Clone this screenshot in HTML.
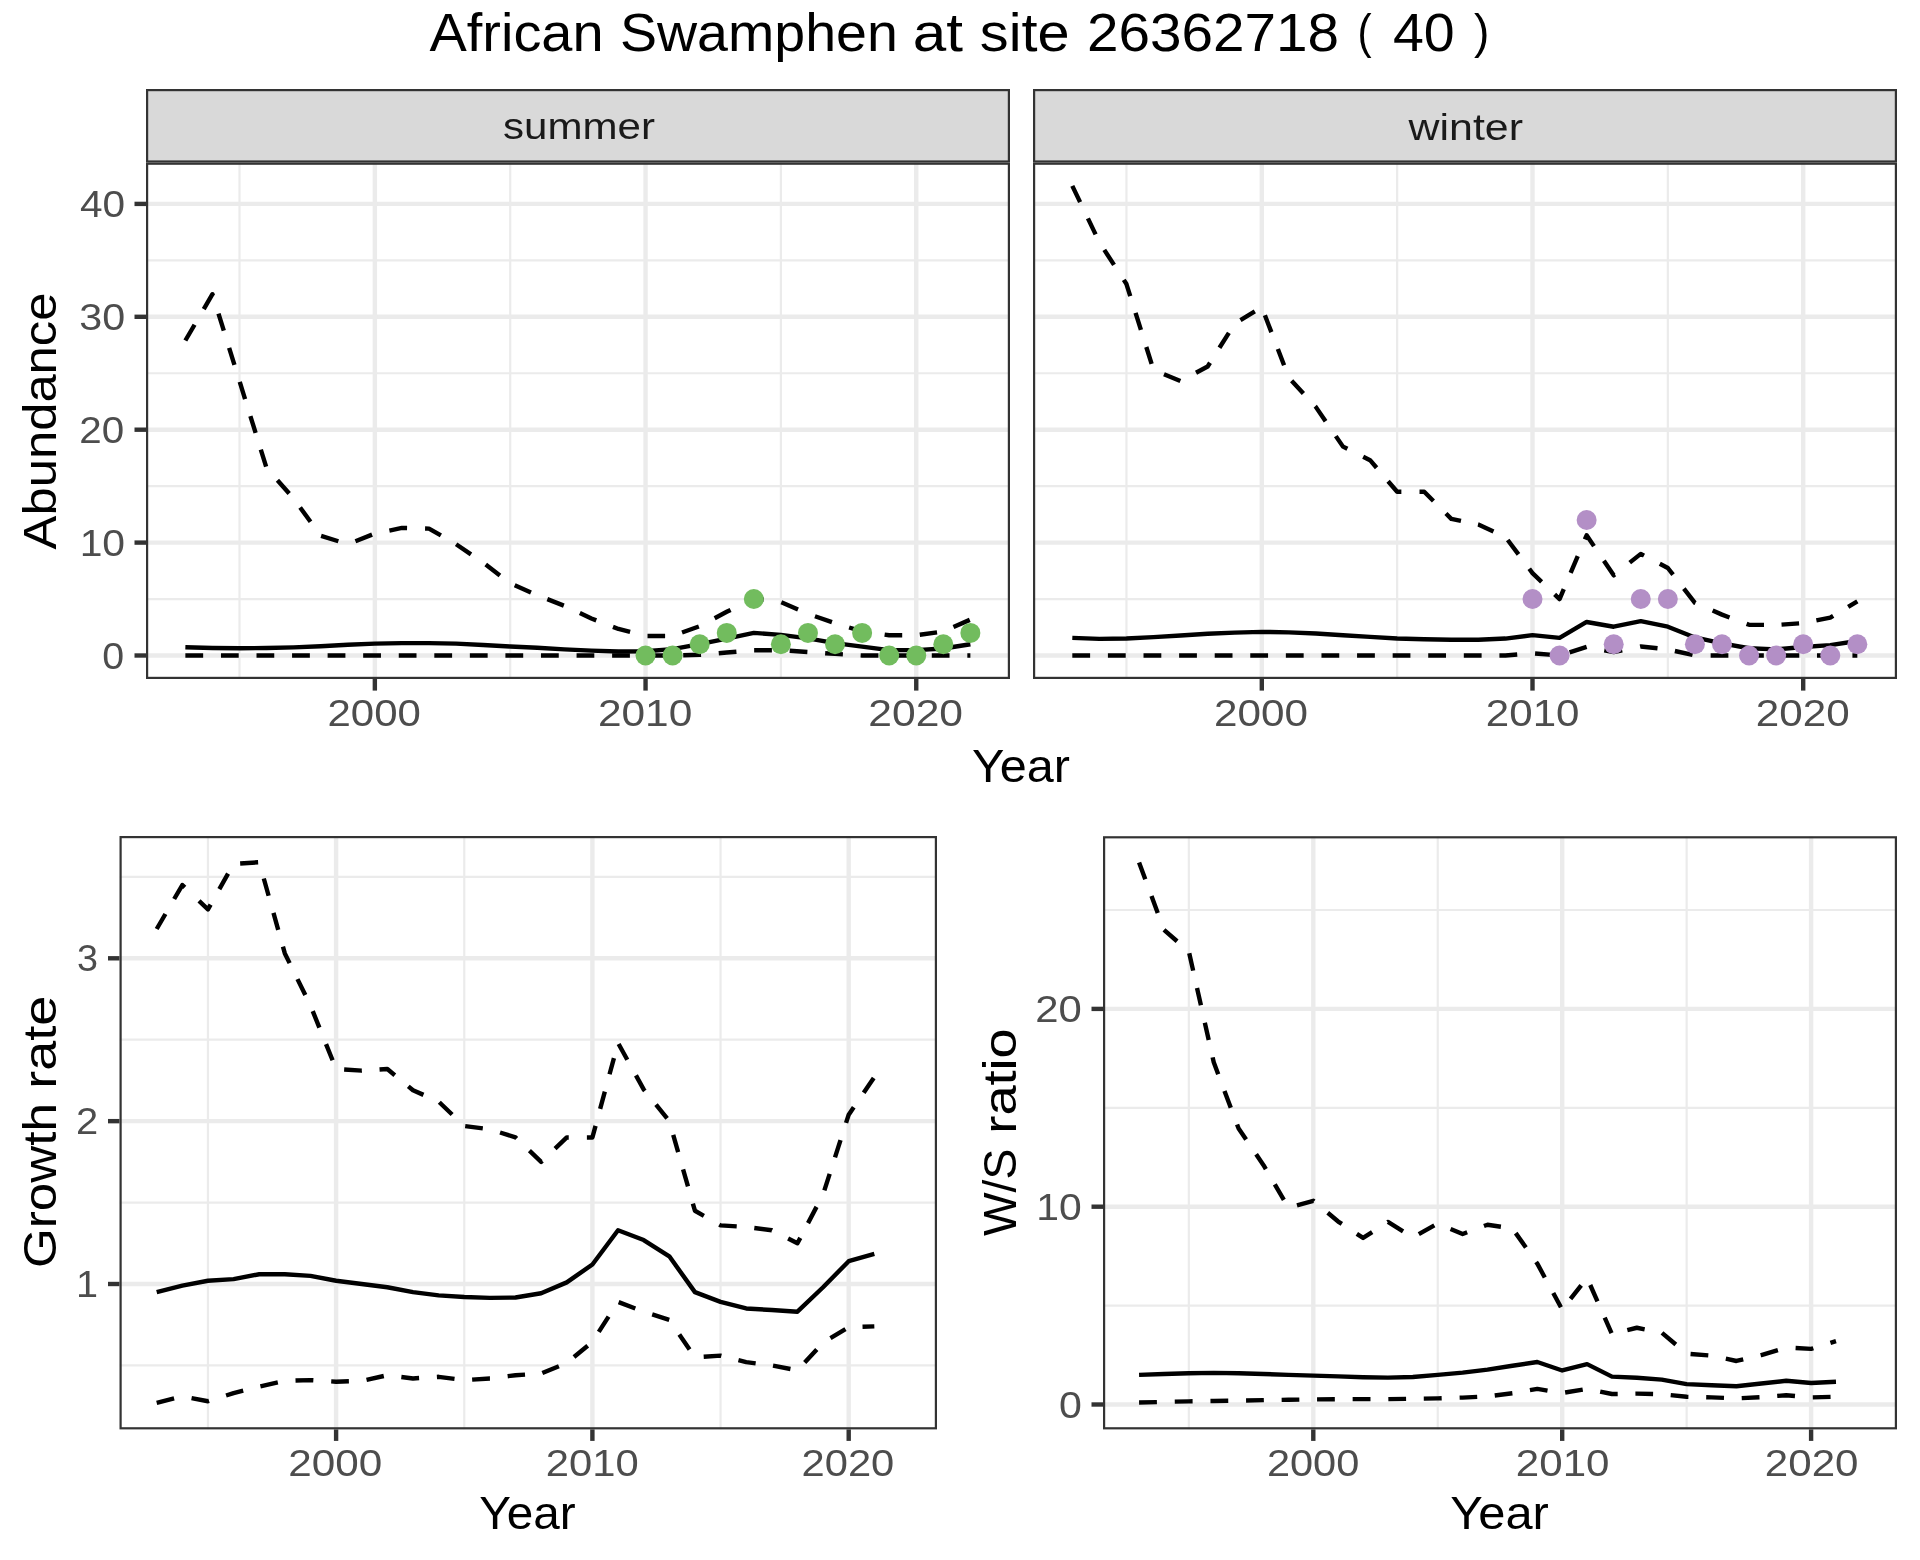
<!DOCTYPE html>
<html><head><meta charset="utf-8"><title>African Swamphen at site 26362718</title>
<style>html,body{margin:0;padding:0;background:#fff;width:1920px;height:1560px;overflow:hidden}
text{font-family:"Liberation Sans",sans-serif}
svg{will-change:transform}</style></head><body>
<svg width="1920" height="1560" viewBox="0 0 1920 1560" style="display:block;font-family:'Liberation Sans',sans-serif">
<rect width="1920" height="1560" fill="#fff"/>
<rect x="146" y="162.6" width="864" height="516.4" fill="#fff"/>
<defs><clipPath id="csummer"><rect x="146" y="162.6" width="864" height="516.4"/></clipPath></defs>
<g clip-path="url(#csummer)">
<line x1="146" x2="1010" y1="599.05" y2="599.05" stroke="#EBEBEB" stroke-width="2.2"/>
<line x1="146" x2="1010" y1="486.15" y2="486.15" stroke="#EBEBEB" stroke-width="2.2"/>
<line x1="146" x2="1010" y1="373.25" y2="373.25" stroke="#EBEBEB" stroke-width="2.2"/>
<line x1="146" x2="1010" y1="260.35" y2="260.35" stroke="#EBEBEB" stroke-width="2.2"/>
<line y1="162.6" y2="679" x1="239.5" x2="239.5" stroke="#EBEBEB" stroke-width="2.2"/>
<line y1="162.6" y2="679" x1="510.2" x2="510.2" stroke="#EBEBEB" stroke-width="2.2"/>
<line y1="162.6" y2="679" x1="780.9" x2="780.9" stroke="#EBEBEB" stroke-width="2.2"/>
<line x1="146" x2="1010" y1="655.5" y2="655.5" stroke="#EBEBEB" stroke-width="4.4"/>
<line x1="146" x2="1010" y1="542.6" y2="542.6" stroke="#EBEBEB" stroke-width="4.4"/>
<line x1="146" x2="1010" y1="429.7" y2="429.7" stroke="#EBEBEB" stroke-width="4.4"/>
<line x1="146" x2="1010" y1="316.8" y2="316.8" stroke="#EBEBEB" stroke-width="4.4"/>
<line x1="146" x2="1010" y1="203.9" y2="203.9" stroke="#EBEBEB" stroke-width="4.4"/>
<line y1="162.6" y2="679" x1="374.85" x2="374.85" stroke="#EBEBEB" stroke-width="4.4"/>
<line y1="162.6" y2="679" x1="645.55" x2="645.55" stroke="#EBEBEB" stroke-width="4.4"/>
<line y1="162.6" y2="679" x1="916.25" x2="916.25" stroke="#EBEBEB" stroke-width="4.4"/>
<path d="M185.36 655.5 L203.16 655.5 M220.96 655.5 L238.71 655.5 M256.51 655.5 L266.57 655.5 L274.26 655.5 M292.06 655.5 L293.64 655.5 L309.86 655.5 M327.61 655.5 L345.41 655.5 M363.16 655.5 L374.85 655.5 L380.96 655.5 M398.76 655.5 L401.92 655.5 L416.51 655.5 M434.31 655.5 L452.11 655.5 M469.86 655.5 L483.13 655.5 L487.66 655.5 M505.41 655.5 L510.2 655.5 L523.21 655.5 M540.96 655.5 L558.76 655.5 M576.56 655.5 L591.41 655.5 L594.31 655.5 M612.11 655.5 L618.48 655.5 L629.91 655.5 M647.66 655.5 L665.46 655.5 M683.21 655.24 L699.69 654.82 L701 654.71 M718.74 653.23 L726.76 652.56 L736.42 651.72 M754.15 650.19 L771.9 650.19 M789.68 650.78 L807.39 651.96 M825.15 653.22 L835.04 653.92 L842.91 654.38 M860.63 655.41 L862.11 655.5 L878.43 655.5 M896.18 655.5 L913.98 655.5 M931.78 655.5 L943.32 655.5 L949.53 655.5 M967.33 655.5 L970.39 655.5" fill="none" stroke="#000" stroke-width="4.4" stroke-linejoin="round" stroke-linecap="butt"/>
<path d="M185.36 340.51 L194.57 324.76 M203.76 309.04 L212.43 294.22 L212.91 295.77 M218.49 313.68 L223.8 330.72 M229.12 347.81 L234.44 364.9 M239.75 381.94 L245.07 399.03 M250.39 416.12 L255.61 432.88 M260.81 449.59 L266.12 466.63 M277.44 480.33 L289.2 493.57 M300.11 507.48 L310.52 521.79 M321.1 535.95 L338.35 541.27 M355.44 541.18 L372.06 534.66 M389.39 530.54 L401.92 527.92 L407.07 528.05 M425.06 528.5 L428.99 528.6 L440.88 535.44 M456.13 544.23 L470.98 554.32 M485.72 564.56 L499.91 575.39 M514.73 585.25 L530.96 592.42 M547.33 599.15 L563.81 605.61 M579.86 613.07 L591.41 618.47 L596.26 620.35 M612.99 626.84 L618.48 628.97 L630.11 631.98 M647.5 635.97 L665.1 635.97 M682.05 632.55 L698.83 626.46 M714.66 618.22 L726.76 611.81 L730.58 609.93 M746.64 602.03 L753.83 598.49 L763.63 599.79 M781.33 602.29 L798.03 609.53 M814.98 616.27 L831.94 622.14 M849.12 627.5 L862.11 631.45 L866.64 632.09 M884.61 634.64 L889.18 635.29 L902.21 635.29 M919.78 634.79 L937.05 632.34 M953.46 627.01 L969.77 619.87" fill="none" stroke="#000" stroke-width="4.4" stroke-linejoin="round" stroke-linecap="butt"/>
<polyline points="185.36,647.26 212.43,648.05 239.5,648.27 266.57,648.05 293.64,647.37 320.71,646.24 347.78,644.77 374.85,643.65 401.92,643.08 428.99,643.08 456.06,643.65 483.13,645 510.2,646.47 537.27,647.82 564.34,649.4 591.41,650.65 618.48,651.55 645.55,651.21 672.62,649.18 699.69,644.21 726.76,638.57 753.83,632.92 780.9,634.84 807.97,638.34 835.04,643.08 862.11,646.58 889.18,650.08 916.25,650.08 943.32,648.5 970.39,644.21" fill="none" stroke="#000" stroke-width="4.4" stroke-linejoin="round" stroke-linecap="butt"/>
<circle cx="645.55" cy="655.5" r="10" fill="#72BC5E"/>
<circle cx="672.62" cy="655.5" r="10" fill="#72BC5E"/>
<circle cx="699.69" cy="644.21" r="10" fill="#72BC5E"/>
<circle cx="726.76" cy="632.92" r="10" fill="#72BC5E"/>
<circle cx="753.83" cy="599.05" r="10" fill="#72BC5E"/>
<circle cx="780.9" cy="644.21" r="10" fill="#72BC5E"/>
<circle cx="807.97" cy="632.92" r="10" fill="#72BC5E"/>
<circle cx="835.04" cy="644.21" r="10" fill="#72BC5E"/>
<circle cx="862.11" cy="632.92" r="10" fill="#72BC5E"/>
<circle cx="889.18" cy="655.5" r="10" fill="#72BC5E"/>
<circle cx="916.25" cy="655.5" r="10" fill="#72BC5E"/>
<circle cx="943.32" cy="644.21" r="10" fill="#72BC5E"/>
<circle cx="970.39" cy="632.92" r="10" fill="#72BC5E"/>
</g>
<rect x="147.1" y="163.7" width="861.8" height="514.2" fill="none" stroke="#333333" stroke-width="2.2"/>
<rect x="147.1" y="90.1" width="861.8" height="71.4" fill="#D9D9D9" stroke="#333333" stroke-width="2.2"/>
<line x1="374.85" x2="374.85" y1="679" y2="690.6" stroke="#333333" stroke-width="4.4"/>
<line x1="645.55" x2="645.55" y1="679" y2="690.6" stroke="#333333" stroke-width="4.4"/>
<line x1="916.25" x2="916.25" y1="679" y2="690.6" stroke="#333333" stroke-width="4.4"/>
<rect x="1033" y="162.6" width="864" height="516.4" fill="#fff"/>
<defs><clipPath id="cwinter"><rect x="1033" y="162.6" width="864" height="516.4"/></clipPath></defs>
<g clip-path="url(#cwinter)">
<line x1="1033" x2="1897" y1="599.05" y2="599.05" stroke="#EBEBEB" stroke-width="2.2"/>
<line x1="1033" x2="1897" y1="486.15" y2="486.15" stroke="#EBEBEB" stroke-width="2.2"/>
<line x1="1033" x2="1897" y1="373.25" y2="373.25" stroke="#EBEBEB" stroke-width="2.2"/>
<line x1="1033" x2="1897" y1="260.35" y2="260.35" stroke="#EBEBEB" stroke-width="2.2"/>
<line y1="162.6" y2="679" x1="1126.45" x2="1126.45" stroke="#EBEBEB" stroke-width="2.2"/>
<line y1="162.6" y2="679" x1="1397.15" x2="1397.15" stroke="#EBEBEB" stroke-width="2.2"/>
<line y1="162.6" y2="679" x1="1667.85" x2="1667.85" stroke="#EBEBEB" stroke-width="2.2"/>
<line x1="1033" x2="1897" y1="655.5" y2="655.5" stroke="#EBEBEB" stroke-width="4.4"/>
<line x1="1033" x2="1897" y1="542.6" y2="542.6" stroke="#EBEBEB" stroke-width="4.4"/>
<line x1="1033" x2="1897" y1="429.7" y2="429.7" stroke="#EBEBEB" stroke-width="4.4"/>
<line x1="1033" x2="1897" y1="316.8" y2="316.8" stroke="#EBEBEB" stroke-width="4.4"/>
<line x1="1033" x2="1897" y1="203.9" y2="203.9" stroke="#EBEBEB" stroke-width="4.4"/>
<line y1="162.6" y2="679" x1="1261.8" x2="1261.8" stroke="#EBEBEB" stroke-width="4.4"/>
<line y1="162.6" y2="679" x1="1532.5" x2="1532.5" stroke="#EBEBEB" stroke-width="4.4"/>
<line y1="162.6" y2="679" x1="1803.2" x2="1803.2" stroke="#EBEBEB" stroke-width="4.4"/>
<path d="M1072.31 655.5 L1090.11 655.5 M1107.91 655.5 L1125.71 655.5 M1143.51 655.5 L1153.52 655.5 L1161.31 655.5 M1179.11 655.5 L1180.59 655.5 L1196.91 655.5 M1214.71 655.5 L1232.51 655.5 M1250.26 655.5 L1261.8 655.5 L1268.06 655.5 M1285.86 655.5 L1288.87 655.5 L1303.66 655.5 M1321.46 655.5 L1339.26 655.5 M1357.06 655.5 L1370.08 655.5 L1374.86 655.5 M1392.66 655.5 L1397.15 655.5 L1410.41 655.5 M1428.21 655.5 L1446.01 655.5 M1463.81 655.5 L1478.36 655.5 L1481.61 655.5 M1499.41 655.5 L1505.43 655.5 L1517.22 654.52 M1535.06 653.46 L1552.55 654.91 M1569.58 652.33 L1586.64 646.92 L1586.64 646.92 M1604.27 650.3 L1613.71 652.11 L1622.22 650.34 M1640.08 646.61 L1640.78 646.47 L1657.52 648.28 M1674.88 650.99 L1692.54 654.96 M1710.63 655.5 L1721.99 655.5 L1728.38 655.5 M1746.08 655.5 L1749.06 655.5 L1763.83 655.5 M1781.53 655.5 L1799.28 655.5 M1816.98 655.5 L1830.27 655.5 L1834.68 655.5 M1852.43 655.5 L1857.34 655.5" fill="none" stroke="#000" stroke-width="4.4" stroke-linejoin="round" stroke-linecap="butt"/>
<path d="M1072.31 185.84 L1080.11 202.11 M1087.92 218.39 L1095.59 234.39 M1104.3 249.88 L1114.03 264.9 M1123.77 279.92 L1126.45 284.06 L1130.26 296.14 M1135.56 312.92 L1140.93 329.95 M1146.3 346.97 L1151.61 363.8 M1163.99 374.23 L1180.37 381.06 M1196.03 372.78 L1207.66 366.48 L1210.02 362.74 M1219.46 347.77 L1228.88 332.84 M1240.46 320.11 L1254.83 311.42 M1264.9 315.29 L1271.37 332.14 M1277.85 349.04 L1284.08 365.28 M1291.64 380.77 L1303.4 393.52 M1315.2 406.31 L1315.94 407.12 L1325.58 421.19 M1335.81 436.12 L1343.01 446.63 L1347.39 448.83 M1363.18 456.73 L1370.08 460.18 L1376.57 467.77 M1388.09 481.21 L1397.15 491.8 L1401.36 491.8 M1419.51 491.8 L1424.22 491.8 L1433.44 501.02 M1445.95 513.54 L1451.29 518.89 L1460.97 520.91 M1478.01 524.46 L1478.36 524.54 L1493.48 531.47 M1507.71 540 L1518.48 554.37 M1529.24 568.73 L1532.5 573.08 L1541.6 581.81 M1554.63 594.31 L1559.57 599.05 L1563.77 589.15 M1570.65 572.95 L1577.76 556.2 M1584.87 539.44 L1586.64 535.26 L1593.98 546.12 M1603.88 560.79 L1613.71 575.34 L1614.84 574.44 M1629.73 562.64 L1640.78 553.89 L1644.02 555.58 M1659.8 563.81 L1667.85 568 L1673.06 574.69 M1683.87 588.58 L1694.92 602.78 L1695.52 603.04 M1712.65 610.54 L1721.99 614.63 L1729.53 617.46 M1746.62 623.87 L1749.06 624.79 L1764 624.92 M1781.54 624.63 L1799.09 623.39 M1816.37 620.46 L1830.27 617.68 L1833.16 615.93 M1848.18 606.85 L1857.34 601.31" fill="none" stroke="#000" stroke-width="4.4" stroke-linejoin="round" stroke-linecap="butt"/>
<polyline points="1072.31,637.89 1099.38,638.9 1126.45,638.57 1153.52,637.1 1180.59,635.52 1207.66,633.82 1234.73,632.58 1261.8,631.9 1288.87,632.36 1315.94,633.48 1343.01,635.18 1370.08,636.87 1397.15,638.57 1424.22,639.24 1451.29,639.81 1478.36,639.81 1505.43,638.57 1532.5,635.18 1559.57,637.89 1586.64,621.97 1613.71,626.71 1640.78,621.18 1667.85,626.71 1694.92,637.44 1721.99,643.42 1749.06,648.27 1776.13,649.4 1803.2,647.03 1830.27,645.11 1857.34,641.05" fill="none" stroke="#000" stroke-width="4.4" stroke-linejoin="round" stroke-linecap="butt"/>
<circle cx="1532.5" cy="599.05" r="10" fill="#B38FC6"/>
<circle cx="1559.57" cy="655.5" r="10" fill="#B38FC6"/>
<circle cx="1586.64" cy="520.02" r="10" fill="#B38FC6"/>
<circle cx="1613.71" cy="644.21" r="10" fill="#B38FC6"/>
<circle cx="1640.78" cy="599.05" r="10" fill="#B38FC6"/>
<circle cx="1667.85" cy="599.05" r="10" fill="#B38FC6"/>
<circle cx="1694.92" cy="644.21" r="10" fill="#B38FC6"/>
<circle cx="1721.99" cy="644.21" r="10" fill="#B38FC6"/>
<circle cx="1749.06" cy="655.5" r="10" fill="#B38FC6"/>
<circle cx="1776.13" cy="655.5" r="10" fill="#B38FC6"/>
<circle cx="1803.2" cy="644.21" r="10" fill="#B38FC6"/>
<circle cx="1830.27" cy="655.5" r="10" fill="#B38FC6"/>
<circle cx="1857.34" cy="644.21" r="10" fill="#B38FC6"/>
</g>
<rect x="1034.1" y="163.7" width="861.8" height="514.2" fill="none" stroke="#333333" stroke-width="2.2"/>
<rect x="1034.1" y="90.1" width="861.8" height="71.4" fill="#D9D9D9" stroke="#333333" stroke-width="2.2"/>
<line x1="1261.8" x2="1261.8" y1="679" y2="690.6" stroke="#333333" stroke-width="4.4"/>
<line x1="1532.5" x2="1532.5" y1="679" y2="690.6" stroke="#333333" stroke-width="4.4"/>
<line x1="1803.2" x2="1803.2" y1="679" y2="690.6" stroke="#333333" stroke-width="4.4"/>
<rect x="119.5" y="836" width="817.5" height="593.4" fill="#fff"/>
<defs><clipPath id="cgrow"><rect x="119.5" y="836" width="817.5" height="593.4"/></clipPath></defs>
<g clip-path="url(#cgrow)">
<line x1="119.5" x2="937" y1="1365.42" y2="1365.42" stroke="#EBEBEB" stroke-width="2.2"/>
<line x1="119.5" x2="937" y1="1202.57" y2="1202.57" stroke="#EBEBEB" stroke-width="2.2"/>
<line x1="119.5" x2="937" y1="1039.72" y2="1039.72" stroke="#EBEBEB" stroke-width="2.2"/>
<line x1="119.5" x2="937" y1="876.87" y2="876.87" stroke="#EBEBEB" stroke-width="2.2"/>
<line y1="836" y2="1429.4" x1="207.95" x2="207.95" stroke="#EBEBEB" stroke-width="2.2"/>
<line y1="836" y2="1429.4" x1="464.25" x2="464.25" stroke="#EBEBEB" stroke-width="2.2"/>
<line y1="836" y2="1429.4" x1="720.55" x2="720.55" stroke="#EBEBEB" stroke-width="2.2"/>
<line x1="119.5" x2="937" y1="1284" y2="1284" stroke="#EBEBEB" stroke-width="4.4"/>
<line x1="119.5" x2="937" y1="1121.15" y2="1121.15" stroke="#EBEBEB" stroke-width="4.4"/>
<line x1="119.5" x2="937" y1="958.3" y2="958.3" stroke="#EBEBEB" stroke-width="4.4"/>
<line y1="836" y2="1429.4" x1="336.1" x2="336.1" stroke="#EBEBEB" stroke-width="4.4"/>
<line y1="836" y2="1429.4" x1="592.4" x2="592.4" stroke="#EBEBEB" stroke-width="4.4"/>
<line y1="836" y2="1429.4" x1="848.7" x2="848.7" stroke="#EBEBEB" stroke-width="4.4"/>
<path d="M156.69 1402.88 L174.09 1398.46 M191.56 1398.13 L207.95 1401.25 L209.06 1400.9 M226.07 1395.5 L233.58 1393.11 L243.2 1390.67 M260.41 1386.33 L277.83 1382.45 M295.51 1380.56 L310.47 1380.08 L313.34 1380.26 M331.21 1381.4 L336.1 1381.71 L348.89 1381.3 M366.52 1379.83 L383.79 1375.99 M401.34 1376.97 L412.99 1378.45 L419.09 1378.07 M436.9 1376.93 L438.62 1376.82 L454.52 1378.85 M472.13 1379.58 L489.88 1378.45 L489.94 1378.45 M507.65 1376.2 L515.51 1375.2 L525.02 1374.59 M542.34 1373.07 L558.88 1366.24 M573.99 1357.02 L587.71 1345.68 M598.76 1331.91 L608.57 1316.64 M618.64 1302.14 L635.32 1308.5 M652.21 1314.4 L669.22 1319.81 M679.3 1334.46 L689.58 1349.48 M703.69 1356.72 L720.55 1355.65 L721.34 1355.85 M738.44 1360.2 L746.18 1362.17 L755.67 1363.37 M773.02 1365.66 L790.45 1368.98 M804.7 1362.47 L816.79 1349.41 M830.44 1338.18 L845.47 1329.11 M862.52 1326.72 L874.33 1326.34" fill="none" stroke="#000" stroke-width="4.4" stroke-linejoin="round" stroke-linecap="butt"/>
<path d="M156.69 928.99 L165.43 914 M174.16 899.01 L182.32 885.02 L184.79 887.37 M199.01 900.92 L207.95 909.44 L210.62 904.69 M219.34 889.18 L228.06 873.66 M240.16 863.43 L258.12 862.29 M263.79 878.5 L268.63 895.73 M273.47 912.96 L278.21 929.81 M282.95 946.71 L284.84 953.41 L289.62 963.13 M297.48 979.11 L305.31 995.03 M312.74 1011.14 L319.38 1027.6 M326.04 1044.11 L332.57 1060.29 M344.15 1069.55 L361.73 1070.67 L361.82 1070.66 M379.53 1069.54 L387.36 1069.04 L394.8 1075.19 M408.3 1086.33 L412.99 1090.21 L423.46 1094.87 M439.32 1102.27 L452.13 1114.48 M465.2 1126.16 L482.81 1128.39 M500.05 1132.52 L515.51 1137.43 L516.62 1138.49 M529.43 1150.7 L541.14 1161.86 L542.24 1160.81 M555.05 1148.6 L566.77 1137.43 L568.74 1137.43 M586.89 1137.43 L592.4 1137.43 L595.55 1125.82 M600.15 1108.88 L604.84 1091.61 M609.54 1074.28 L613.94 1058.07 M618.62 1044.05 L627.3 1059.76 M635.95 1075.43 L643.66 1089.39 L644.82 1090.83 M656 1104.68 L667.12 1118.46 M673.22 1134.89 L678.15 1152.1 M683.08 1169.35 L687.98 1186.47 M692.88 1203.58 L694.92 1210.72 L703.89 1215.84 M719.29 1224.66 L720.55 1225.37 L736.72 1226.4 M754.29 1228.03 L771.81 1230.26 L772.06 1230.39 M788.11 1238.54 L797.44 1243.29 L800.29 1237.86 M808.02 1223.11 L816.55 1206.86 M824.37 1190.37 L829.68 1173.85 M834.99 1157.34 L840.52 1140.1 M846.07 1122.82 L848.7 1114.64 L853.76 1107.25 M863.69 1092.72 L873.72 1078.07" fill="none" stroke="#000" stroke-width="4.4" stroke-linejoin="round" stroke-linecap="butt"/>
<polyline points="156.69,1292.14 182.32,1285.63 207.95,1280.74 233.58,1279.11 259.21,1274.23 284.84,1274.23 310.47,1275.86 336.1,1280.74 361.73,1284 387.36,1287.26 412.99,1292.14 438.62,1295.4 464.25,1297.03 489.88,1297.84 515.51,1297.52 541.14,1293.28 566.77,1282.37 592.4,1264.46 618.03,1230.26 643.66,1240.03 669.29,1256.32 694.92,1292.14 720.55,1301.91 746.18,1308.43 771.81,1310.06 797.44,1311.68 823.07,1287.26 848.7,1261.2 874.33,1253.87" fill="none" stroke="#000" stroke-width="4.4" stroke-linejoin="round" stroke-linecap="butt"/>
</g>
<rect x="120.6" y="837.1" width="815.3" height="591.2" fill="none" stroke="#333333" stroke-width="2.2"/>
<line x1="336.1" x2="336.1" y1="1429.4" y2="1440.9" stroke="#333333" stroke-width="4.4"/>
<line x1="592.4" x2="592.4" y1="1429.4" y2="1440.9" stroke="#333333" stroke-width="4.4"/>
<line x1="848.7" x2="848.7" y1="1429.4" y2="1440.9" stroke="#333333" stroke-width="4.4"/>
<line x1="108" x2="119.5" y1="1284" y2="1284" stroke="#333333" stroke-width="4.4"/>
<line x1="108" x2="119.5" y1="1121.15" y2="1121.15" stroke="#333333" stroke-width="4.4"/>
<line x1="108" x2="119.5" y1="958.3" y2="958.3" stroke="#333333" stroke-width="4.4"/>
<rect x="1103" y="836.2" width="794" height="593.2" fill="#fff"/>
<defs><clipPath id="cratio"><rect x="1103" y="836.2" width="794" height="593.2"/></clipPath></defs>
<g clip-path="url(#cratio)">
<line x1="1103" x2="1897" y1="1305.6" y2="1305.6" stroke="#EBEBEB" stroke-width="2.2"/>
<line x1="1103" x2="1897" y1="1107.8" y2="1107.8" stroke="#EBEBEB" stroke-width="2.2"/>
<line x1="1103" x2="1897" y1="910" y2="910" stroke="#EBEBEB" stroke-width="2.2"/>
<line y1="836.2" y2="1429.4" x1="1188.85" x2="1188.85" stroke="#EBEBEB" stroke-width="2.2"/>
<line y1="836.2" y2="1429.4" x1="1437.75" x2="1437.75" stroke="#EBEBEB" stroke-width="2.2"/>
<line y1="836.2" y2="1429.4" x1="1686.65" x2="1686.65" stroke="#EBEBEB" stroke-width="2.2"/>
<line x1="1103" x2="1897" y1="1404.5" y2="1404.5" stroke="#EBEBEB" stroke-width="4.4"/>
<line x1="1103" x2="1897" y1="1206.7" y2="1206.7" stroke="#EBEBEB" stroke-width="4.4"/>
<line x1="1103" x2="1897" y1="1008.9" y2="1008.9" stroke="#EBEBEB" stroke-width="4.4"/>
<line y1="836.2" y2="1429.4" x1="1313.3" x2="1313.3" stroke="#EBEBEB" stroke-width="4.4"/>
<line y1="836.2" y2="1429.4" x1="1562.2" x2="1562.2" stroke="#EBEBEB" stroke-width="4.4"/>
<line y1="836.2" y2="1429.4" x1="1811.1" x2="1811.1" stroke="#EBEBEB" stroke-width="4.4"/>
<path d="M1139.07 1402.52 L1156.91 1402.1 M1174.76 1401.67 L1188.85 1401.34 L1192.61 1401.28 M1210.45 1400.99 L1213.74 1400.94 L1228.25 1400.71 M1246.05 1400.43 L1263.52 1400.15 L1263.85 1400.14 M1281.64 1399.86 L1288.41 1399.75 L1299.34 1399.58 M1317.04 1399.33 L1334.84 1399.19 M1352.64 1399.16 L1363.08 1399.16 L1370.49 1399.16 M1388.34 1399.15 L1406.09 1398.87 M1423.78 1398.59 L1437.75 1398.37 L1441.68 1398.24 M1459.62 1397.67 L1462.64 1397.58 L1477.2 1396.88 M1494.73 1395.47 L1512.39 1393.23 M1529.93 1390.16 L1537.31 1388.87 L1547.52 1390.58 M1565.13 1392.54 L1582.74 1389.6 M1600.2 1391.58 L1611.98 1394.02 L1617.7 1393.93 M1635.4 1393.64 L1636.87 1393.62 L1653.09 1394.01 M1670.69 1395.14 L1686.65 1396.79 L1688.41 1396.83 M1706.2 1397.25 L1711.54 1397.38 L1723.99 1397.87 M1741.72 1398.12 L1759.5 1397.27 M1777.2 1395.92 L1786.21 1395.2 L1794.99 1395.97 M1812.78 1397.34 L1830.57 1396.91" fill="none" stroke="#000" stroke-width="4.4" stroke-linejoin="round" stroke-linecap="butt"/>
<path d="M1139.07 862.53 L1145.28 879.32 M1151.5 896.1 L1157.74 912.98 M1163.99 929.81 L1177.09 941.26 M1189.25 953.32 L1193.14 970.64 M1197.02 987.91 L1200.93 1005.28 M1204.83 1022.65 L1208.73 1040.01 M1212.63 1057.38 L1213.74 1062.31 L1218.22 1074.24 M1224.48 1090.91 L1230.78 1107.66 M1237.07 1124.42 L1238.63 1128.57 L1246.12 1139.58 M1256.13 1154.3 L1263.52 1165.16 L1265.85 1169.14 M1274.79 1184.42 L1283.86 1199.91 M1296.97 1205.31 L1313.3 1200.77 L1314.03 1201.38 M1327.74 1212.81 L1338.19 1221.54 L1341.85 1223.95 M1356.83 1233.83 L1363.08 1237.95 L1372.18 1232.1 M1387.52 1222.22 L1387.97 1221.93 L1403.07 1231.29 M1418.79 1234.06 L1434.34 1225.41 M1450.56 1228.91 L1462.64 1234 L1467.18 1232.3 M1483.95 1226.04 L1487.53 1224.7 L1500.9 1226.72 M1515.71 1233.11 L1525.9 1247.53 M1536.12 1261.98 L1537.31 1263.67 L1544.79 1277.45 M1553.25 1293.06 L1560.93 1307.21 M1570.53 1298.96 L1581.2 1285.4 M1590.24 1285.01 L1597.47 1301.33 M1604.7 1317.65 L1611.54 1333.1 M1627.32 1330.18 L1636.87 1327.75 L1644.66 1329.3 M1662 1332.9 L1675.81 1344.53 M1690.56 1353.98 L1708.3 1355.39 M1725.82 1358.71 L1736.43 1360.98 L1743.23 1359.36 M1760.6 1355.22 L1761.32 1355.05 L1777.89 1350.05 M1795.6 1348.06 L1811.1 1348.92 L1813.32 1348.23 M1830.42 1342.93 L1835.99 1341.2" fill="none" stroke="#000" stroke-width="4.4" stroke-linejoin="round" stroke-linecap="butt"/>
<polyline points="1139.07,1374.83 1163.96,1374.04 1188.85,1373.25 1213.74,1372.85 1238.63,1373.25 1263.52,1374.04 1288.41,1374.83 1313.3,1375.62 1338.19,1376.41 1363.08,1377.2 1387.97,1377.6 1412.86,1377.01 1437.75,1374.83 1462.64,1372.65 1487.53,1369.69 1512.42,1365.73 1537.31,1361.97 1562.2,1370.48 1587.09,1364.15 1611.98,1376.61 1636.87,1377.8 1661.76,1379.58 1686.65,1384.13 1711.54,1385.31 1736.43,1386.3 1761.32,1383.53 1786.21,1380.76 1811.1,1382.94 1835.99,1381.75" fill="none" stroke="#000" stroke-width="4.4" stroke-linejoin="round" stroke-linecap="butt"/>
</g>
<rect x="1104.1" y="837.3" width="791.8" height="591" fill="none" stroke="#333333" stroke-width="2.2"/>
<line x1="1313.3" x2="1313.3" y1="1429.4" y2="1440.9" stroke="#333333" stroke-width="4.4"/>
<line x1="1562.2" x2="1562.2" y1="1429.4" y2="1440.9" stroke="#333333" stroke-width="4.4"/>
<line x1="1811.1" x2="1811.1" y1="1429.4" y2="1440.9" stroke="#333333" stroke-width="4.4"/>
<line x1="1091.5" x2="1103" y1="1404.5" y2="1404.5" stroke="#333333" stroke-width="4.4"/>
<line x1="1091.5" x2="1103" y1="1206.7" y2="1206.7" stroke="#333333" stroke-width="4.4"/>
<line x1="1091.5" x2="1103" y1="1008.9" y2="1008.9" stroke="#333333" stroke-width="4.4"/>
<line x1="134.5" x2="146" y1="655.5" y2="655.5" stroke="#333333" stroke-width="4.4"/>
<line x1="134.5" x2="146" y1="542.6" y2="542.6" stroke="#333333" stroke-width="4.4"/>
<line x1="134.5" x2="146" y1="429.7" y2="429.7" stroke="#333333" stroke-width="4.4"/>
<line x1="134.5" x2="146" y1="316.8" y2="316.8" stroke="#333333" stroke-width="4.4"/>
<line x1="134.5" x2="146" y1="203.9" y2="203.9" stroke="#333333" stroke-width="4.4"/>
<text id="t1" x="429.49" y="51.2" font-size="53.5" fill="#000" textLength="174.1" lengthAdjust="spacingAndGlyphs">African</text>
<text id="t2" x="619.94" y="51.2" font-size="53.5" fill="#000" textLength="277.9" lengthAdjust="spacingAndGlyphs">Swamphen</text>
<text id="t3" x="912.8" y="51.2" font-size="53.5" fill="#000" textLength="50.21" lengthAdjust="spacingAndGlyphs">at</text>
<text id="t4" x="979.88" y="51.2" font-size="53.5" fill="#000" textLength="89.79" lengthAdjust="spacingAndGlyphs">site</text>
<text id="t5" x="1086.95" y="51.2" font-size="53.5" fill="#000" textLength="252.1" lengthAdjust="spacingAndGlyphs">26362718</text>
<text id="t6" x="1357.42" y="48.4" font-size="49" fill="#000" textLength="14.13" lengthAdjust="spacingAndGlyphs">(</text>
<text id="t7" x="1392.93" y="51.2" font-size="53.5" fill="#000" textLength="61.7" lengthAdjust="spacingAndGlyphs">40</text>
<text id="t8" x="1473.91" y="48.4" font-size="49" fill="#000" textLength="15.39" lengthAdjust="spacingAndGlyphs">)</text>
<text id="summer" x="502.99" y="139.2" font-size="36.6" fill="#1A1A1A" textLength="152.04" lengthAdjust="spacingAndGlyphs">summer</text>
<text id="winter" x="1408.6" y="139.8" font-size="36.6" fill="#1A1A1A" textLength="114.43" lengthAdjust="spacingAndGlyphs">winter</text>
<text id="tx1" x="327.53" y="726.3" font-size="36.5" fill="#4D4D4D" textLength="93.34" lengthAdjust="spacingAndGlyphs">2000</text>
<text id="tx2" x="597.9" y="726.3" font-size="36.5" fill="#4D4D4D" textLength="94.37" lengthAdjust="spacingAndGlyphs">2010</text>
<text id="tx3" x="868.29" y="726.3" font-size="36.5" fill="#4D4D4D" textLength="94.78" lengthAdjust="spacingAndGlyphs">2020</text>
<text id="tx4" x="1214.09" y="726.3" font-size="36.5" fill="#4D4D4D" textLength="93.99" lengthAdjust="spacingAndGlyphs">2000</text>
<text id="tx5" x="1485.89" y="726.3" font-size="36.5" fill="#4D4D4D" textLength="93.55" lengthAdjust="spacingAndGlyphs">2010</text>
<text id="tx6" x="1755.89" y="726.3" font-size="36.5" fill="#4D4D4D" textLength="93.78" lengthAdjust="spacingAndGlyphs">2020</text>
<text id="ty40" x="79.95" y="216.7" font-size="36.5" fill="#4D4D4D" textLength="45.15" lengthAdjust="spacingAndGlyphs">40</text>
<text id="ty30" x="79.26" y="329.6" font-size="36.5" fill="#4D4D4D" textLength="45.88" lengthAdjust="spacingAndGlyphs">30</text>
<text id="ty20" x="79.2" y="443" font-size="36.5" fill="#4D4D4D" textLength="44.9" lengthAdjust="spacingAndGlyphs">20</text>
<text id="ty10" x="79.67" y="556" font-size="36.5" fill="#4D4D4D" textLength="45.44" lengthAdjust="spacingAndGlyphs">10</text>
<text id="ty0" x="102.28" y="668.9" font-size="36.5" fill="#4D4D4D" textLength="21.88" lengthAdjust="spacingAndGlyphs">0</text>
<text id="yeart" x="971.96" y="781.7" font-size="46.5" fill="#000" textLength="98.06" lengthAdjust="spacingAndGlyphs">Year</text>
<text id="abund" x="0" y="0" font-size="46.5" fill="#000" textLength="256.85" lengthAdjust="spacingAndGlyphs" transform="translate(56.1 549.4) rotate(-90)">Abundance</text>
<text id="bx1" x="288.29" y="1475.6" font-size="36.5" fill="#4D4D4D" textLength="93.99" lengthAdjust="spacingAndGlyphs">2000</text>
<text id="bx2" x="545.71" y="1475.6" font-size="36.5" fill="#4D4D4D" textLength="92.95" lengthAdjust="spacingAndGlyphs">2010</text>
<text id="bx3" x="801.51" y="1475.6" font-size="36.5" fill="#4D4D4D" textLength="92.79" lengthAdjust="spacingAndGlyphs">2020</text>
<text id="by3" x="77.11" y="971" font-size="36.5" fill="#4D4D4D" textLength="20.97" lengthAdjust="spacingAndGlyphs">3</text>
<text id="by2" x="75.92" y="1133.7" font-size="36.5" fill="#4D4D4D" textLength="22.2" lengthAdjust="spacingAndGlyphs">2</text>
<text id="by1" x="76.14" y="1297" font-size="36.5" fill="#4D4D4D" textLength="22.05" lengthAdjust="spacingAndGlyphs">1</text>
<text id="yearbl" x="479.36" y="1529.1" font-size="46.5" fill="#000" textLength="96.28" lengthAdjust="spacingAndGlyphs">Year</text>
<text id="g1" x="0" y="0" font-size="46.5" fill="#000" textLength="165.03" lengthAdjust="spacingAndGlyphs" transform="translate(56.2 1268.1) rotate(-90)">Growth</text>
<text id="g2" x="0" y="0" font-size="46.5" fill="#000" textLength="93.24" lengthAdjust="spacingAndGlyphs" transform="translate(56.2 1088.82) rotate(-90)">rate</text>
<text id="rx1" x="1266.91" y="1475.6" font-size="36.5" fill="#4D4D4D" textLength="92.38" lengthAdjust="spacingAndGlyphs">2000</text>
<text id="rx2" x="1515.89" y="1475.6" font-size="36.5" fill="#4D4D4D" textLength="93.55" lengthAdjust="spacingAndGlyphs">2010</text>
<text id="rx3" x="1764.89" y="1475.6" font-size="36.5" fill="#4D4D4D" textLength="93.55" lengthAdjust="spacingAndGlyphs">2020</text>
<text id="ry20" x="1035.19" y="1022.1" font-size="36.5" fill="#4D4D4D" textLength="46.56" lengthAdjust="spacingAndGlyphs">20</text>
<text id="ry10" x="1036.29" y="1220" font-size="36.5" fill="#4D4D4D" textLength="45.46" lengthAdjust="spacingAndGlyphs">10</text>
<text id="ry0" x="1058.98" y="1417.8" font-size="36.5" fill="#4D4D4D" textLength="22.88" lengthAdjust="spacingAndGlyphs">0</text>
<text id="yearbr" x="1450.15" y="1529" font-size="46.5" fill="#000" textLength="98.67" lengthAdjust="spacingAndGlyphs">Year</text>
<text id="w1" x="0" y="0" font-size="46.5" fill="#000" textLength="87.28" lengthAdjust="spacingAndGlyphs" transform="translate(1016.1 1236.02) rotate(-90)">W/S</text>
<text id="w2" x="0" y="0" font-size="46.5" fill="#000" textLength="105.39" lengthAdjust="spacingAndGlyphs" transform="translate(1016.1 1133.63) rotate(-90)">ratio</text>
</svg>
</body></html>
